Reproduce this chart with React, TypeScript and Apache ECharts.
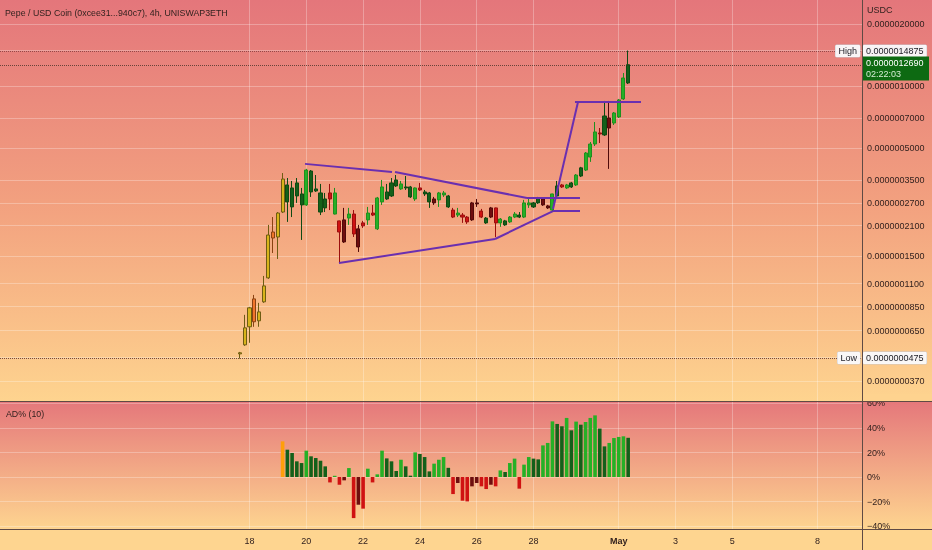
import React, { useEffect, useRef } from "react";
import * as echarts from "echarts";

// ---------- texts ----------
const TITLE = "Pepe / USD Coin (0xcee31...940c7), 4h, UNISWAP3ETH";
const QUOTE = "USDC";
const INDICATOR = "AD% (10)";
const COUNTDOWN = "02:22:03";

// ---------- time ----------
// x values are days counted from 1 April (31 = 1 May)
const MAY_FIRST = 31;
const FIRST_CANDLE_DAY = 17 + 16 / 24; // 17 Apr 16:00
const CANDLE_DAYS = 4 / 24; // 4h candles
const DAY_TICKS = [18, 20, 22, 24, 26, 28, 31, 33, 35, 38];
const DAY_AXIS_MIN = 9.215;
const DAY_AXIS_MAX = 39.567;

// ---------- prices (values in units of 1e-7 USDC) ----------
const PRICE_UNIT = 1e-7;
const OPEN = [
  0.501, 0.554, 0.678, 0.926, 0.725, 0.896, 1.171, 1.956, 1.85, 2.445,
  2.738, 2.589, 2.927, 2.648, 2.648, 3.061, 3.095, 2.445, 2.561, 3.027,
  2.391, 2.215, 2.24, 2.286, 2.391, 2.026, 2.166, 2.24, 2.418, 2.026,
  2.738, 2.83, 2.927, 3.273, 3.165, 3.201, 2.895, 2.83, 3.201, 2.993,
  2.738, 2.83, 2.8, 2.96, 2.589, 2.5, 2.364, 2.364, 2.312, 2.708,
  2.708, 2.472, 2.166, 2.561, 2.561, 2.166, 2.118, 2.19, 2.312, 2.312,
  2.312, 2.648, 2.589, 2.708, 2.83, 2.619, 2.5, 2.927, 3.31, 3.201,
  3.237, 3.31, 3.657, 3.91, 4.522, 5.231, 5.918, 5.788, 6.996, 6.614,
  7.075, 8.654, 10.35,
];
const CLOSE = [
  0.507, 0.67, 0.838, 0.717, 0.801, 1.071, 1.891, 1.829, 2.418, 3.536,
  3.31, 3.201, 3.385, 2.993, 3.91, 3.867, 3.165, 3.027, 2.83, 2.83,
  3.027, 1.956, 1.75, 2.391, 1.913, 1.655, 2.095, 2.418, 2.364, 2.862,
  3.237, 3.061, 3.385, 3.5, 3.347, 3.237, 3.237, 3.201, 3.13, 3.061,
  3.027, 2.708, 3.027, 3.027, 2.927, 2.312, 2.418, 2.312, 2.19, 2.24,
  2.678, 2.312, 2.286, 2.312, 2.166, 2.261, 2.215, 2.312, 2.391, 2.364,
  2.708, 2.708, 2.708, 2.862, 2.648, 2.561, 2.993, 3.273, 3.237, 3.31,
  3.385, 3.698, 4.006, 4.729, 5.231, 5.985, 5.853, 7.154, 6.255, 7.398,
  8.56, 10.94, 12.69,
];
const LOW = [
  0.475, 0.548, 0.567, 0.678, 0.678, 0.886, 1.158, 1.547, 1.447, 2.418,
  2.19, 2.312, 2.708, 1.79, 2.619, 2.895, 3.061, 2.364, 2.445, 2.5,
  2.38, 1.398, 1.731, 2.118, 1.85, 1.565, 2.048, 2.118, 2.338, 2.0,
  2.648, 2.8, 2.895, 3.237, 3.13, 3.13, 2.862, 2.769, 3.095, 2.927,
  2.561, 2.648, 2.589, 2.895, 2.561, 2.286, 2.312, 2.166, 2.142, 2.215,
  2.589, 2.286, 2.142, 2.286, 1.85, 2.072, 2.095, 2.166, 2.286, 2.286,
  2.286, 2.561, 2.561, 2.678, 2.619, 2.532, 2.472, 2.862, 3.201, 3.165,
  3.201, 3.273, 3.616, 3.867, 4.283, 5.116, 5.289, 5.723, 3.961, 6.469,
  6.996, 8.56, 10.23,
];
const HIGH = [
  0.512, 0.775, 0.847, 0.968, 0.886, 1.197, 2.118, 2.312, 2.445, 3.781,
  3.576, 3.461, 3.576, 3.201, 3.961, 3.91, 3.698, 3.347, 3.027, 3.347,
  3.201, 2.22, 2.561, 2.561, 2.5, 2.118, 2.215, 2.589, 2.648, 2.895,
  3.5, 3.347, 3.576, 3.698, 3.461, 3.657, 3.273, 3.22, 3.385, 3.13,
  3.061, 2.895, 3.061, 3.095, 2.96, 2.561, 2.561, 2.418, 2.338, 2.738,
  2.83, 2.532, 2.312, 2.589, 2.57, 2.286, 2.24, 2.338, 2.445, 2.445,
  2.8, 2.83, 2.738, 2.895, 2.862, 2.648, 3.0, 3.461, 3.347, 3.347,
  3.423, 3.739, 4.051, 4.782, 5.349, 6.689, 6.255, 8.465, 8.465, 7.481,
  8.654, 11.57, 14.875,
];

// AD% (10) indicator, one value per candle (first 9 candles have none)
const AD_PCT = [
  null, null, null, null, null, null, null, null, null, 29.1,
  22.3, 19.6, 12.8, 11.4, 21.5, 16.9, 15.5, 13.3, 8.7, -4.4,
  1.0, -6.3, -2.7, 7.3, -33.5, -22.6, -25.8, 6.8, -4.4, 2.2,
  21.5, 15.2, 12.8, 4.9, 14.1, 8.7, 1.1, 20.1, 18.8, 16.3,
  4.6, 10.9, 14.1, 16.3, 7.5, -13.9, -4.9, -19.3, -19.9, -7.6,
  -4.9, -7.6, -9.8, -6.3, -7.6, 5.4, 4.1, 11.4, 15.0, -9.5,
  10.1, 16.3, 15.0, 14.4, 25.8, 27.8, 45.4, 43.3, 41.4, 48.2,
  38.1, 45.2, 42.7, 44.9, 48.2, 50.3, 39.5, 25.0, 27.8, 31.8,
  32.7, 33.2, 32.0,
];

// price scale ticks (USDC)
const PRICE_TICKS = [
  2e-6, 1.5e-6, 1e-6, 7e-7, 5e-7, 3.5e-7, 2.7e-7, 2.1e-7, 1.5e-7, 1.1e-7,
  8.5e-8, 6.5e-8, 4.8e-8, 3.7e-8,
];
const PRICE_AXIS_MIN = 2.958e-8;
const PRICE_AXIS_MAX = 2.616e-6;
const AD_TICKS = [-40, -20, 0, 20, 40, 60];
const AD_AXIS_MIN = -42.4;
const AD_AXIS_MAX = 61.2;

// visible range markers
const VISIBLE_HIGH = 1.4875e-6;
const VISIBLE_LOW = 4.75e-8;

// drawn trend lines: [day, price in 1e-7]
const TRENDLINES = [
  [[19.954, 4.189], [23.018, 3.824]],
  [[23.123, 3.824], [27.771, 2.862]],
  [[21.151, 1.383], [26.644, 1.809]],
  [[26.644, 1.809], [28.687, 2.472]],
  [[27.771, 2.862], [29.637, 2.862]],
  [[28.687, 2.472], [29.637, 2.472]],
  [[28.687, 2.532], [29.567, 8.371]],
  [[29.461, 8.371], [31.785, 8.371]],
];

// ---------- styles ----------
const FONT = '"Liberation Sans", Arial, sans-serif';
const TEXT = "#33221f";
const GRID_LINE = "rgba(255,255,255,0.28)";
const SEP = "#5f4a44";
const PURPLE = "#6a2fb0";
const C = {
  gUp: "#26b026",
  gDark: "#14601a",
  rDown: "#d01212",
  rDark: "#6e0e0e",
  orange: "#ff9f0a",
  yellow: "#d8b41c",
  orangeCandle: "#f0762b",
};
const BORDER: Record<string, string> = {
  [C.gUp]: "#1f8f1f",
  [C.gDark]: "#0f4a13",
  [C.rDown]: "#9a0e0e",
  [C.rDark]: "#500a0a",
  [C.yellow]: "#6e5c12",
  [C.orangeCandle]: "#8a4212",
};

const lg = Math.log10;
const fmtPrice = (p: number) => p.toFixed(10);
const dayOf = (i: number) => FIRST_CANDLE_DAY + i * CANDLE_DAYS;

function adTrend(i: number): "rise" | "fall" | null {
  const v = AD_PCT[i];
  const pv = i > 0 ? AD_PCT[i - 1] : null;
  if (v == null || pv == null) return null;
  return v >= pv ? "rise" : "fall";
}

function candleColor(i: number) {
  const up = CLOSE[i] >= OPEN[i];
  const t = adTrend(i);
  if (!t) return up ? C.yellow : C.orangeCandle;
  if (up) return t === "rise" ? C.gUp : C.gDark;
  return t === "fall" ? C.rDown : C.rDark;
}

function barColor(i: number) {
  const v = AD_PCT[i] as number;
  const t = adTrend(i);
  if (!t) return C.orange;
  if (v >= 0) return t === "rise" ? C.gUp : C.gDark;
  return t === "fall" ? C.rDown : C.rDark;
}

function buildOption() {
  const last = OPEN.length - 1;
  const lastPrice = CLOSE[last] * PRICE_UNIT;
  const lastAd = AD_PCT[last] as number;

  const candleData = OPEN.map((o, i) => {
    const col = candleColor(i);
    return {
      value: [
        dayOf(i),
        lg(o * PRICE_UNIT),
        lg(CLOSE[i] * PRICE_UNIT),
        lg(LOW[i] * PRICE_UNIT),
        lg(HIGH[i] * PRICE_UNIT),
      ],
      itemStyle: {
        color: col,
        color0: col,
        borderColor: BORDER[col],
        borderColor0: BORDER[col],
        borderWidth: 1,
      },
    };
  });

  const barData: any[] = [];
  AD_PCT.forEach((v, i) => {
    if (v == null) return;
    barData.push({ value: [dayOf(i), v], itemStyle: { color: barColor(i) } });
  });

  const tagLabel = {
    fontSize: 9,
    fontFamily: FONT,
    color: "#1c1c24",
    backgroundColor: "rgba(250,250,252,0.95)",
    borderColor: "#c9c9cf",
    borderWidth: 0.5,
    borderRadius: 1,
    padding: [2, 3, 1, 3],
  };

  const dottedFaint = { type: "dotted", color: "rgba(110,50,50,0.45)", width: 1 };

  const priceTickLogs = PRICE_TICKS.map(lg);

  return {
    animation: false,
    textStyle: { fontFamily: FONT },
    graphic: [
      {
        type: "rect",
        z: -10,
        silent: true,
        shape: { x: 0, y: 0, width: 932, height: 402 },
        style: {
          fill: new echarts.graphic.LinearGradient(0, 0, 0, 1, [
            { offset: 0, color: "#e4767b" },
            { offset: 0.5, color: "#f2a07f" },
            { offset: 1, color: "#fed48f" },
          ]),
        },
      },
      {
        type: "rect",
        z: -10,
        silent: true,
        shape: { x: 0, y: 402, width: 932, height: 128 },
        style: {
          fill: new echarts.graphic.LinearGradient(0, 0, 0, 1, [
            { offset: 0, color: "#e5787b" },
            { offset: 1, color: "#fed590" },
          ]),
        },
      },
      {
        type: "rect",
        z: -10,
        silent: true,
        shape: { x: 0, y: 530, width: 932, height: 20 },
        style: { fill: "#fed590" },
      },
      {
        type: "rect",
        z: 40,
        silent: true,
        shape: { x: 863, y: 394, width: 69, height: 8 },
        style: { fill: "#fed38f" },
      },
      {
        type: "line",
        z: 50,
        silent: true,
        shape: { x1: 0, y1: 401.5, x2: 932, y2: 401.5 },
        style: { stroke: SEP, lineWidth: 1 },
      },
      {
        type: "line",
        z: 50,
        silent: true,
        shape: { x1: 0, y1: 529.5, x2: 932, y2: 529.5 },
        style: { stroke: SEP, lineWidth: 1 },
      },
      {
        type: "line",
        z: 50,
        silent: true,
        shape: { x1: 862.5, y1: 0, x2: 862.5, y2: 550 },
        style: { stroke: SEP, lineWidth: 1 },
      },
      {
        type: "text",
        z: 50,
        x: 5,
        y: 8,
        style: { text: TITLE, fill: TEXT, fontSize: 8.8, fontFamily: FONT },
      },
      {
        type: "text",
        z: 50,
        x: 867,
        y: 5,
        style: { text: QUOTE, fill: TEXT, fontSize: 9, fontFamily: FONT },
      },
      {
        type: "text",
        z: 50,
        x: 6,
        y: 409.5,
        style: { text: INDICATOR, fill: TEXT, fontSize: 8.8, fontFamily: FONT },
      },
    ],
    grid: [
      { left: 0, top: 0, width: 862, height: 401, outerBoundsMode: "none" },
      { left: 0, top: 402, width: 862, height: 127, outerBoundsMode: "none" },
    ],
    xAxis: [
      {
        type: "value",
        gridIndex: 0,
        min: DAY_AXIS_MIN,
        max: DAY_AXIS_MAX,
        axisLine: { show: false },
        axisTick: { show: false, customValues: DAY_TICKS },
        axisLabel: { show: false, customValues: DAY_TICKS },
        splitLine: { show: true, lineStyle: { color: GRID_LINE, width: 1 } },
      },
      {
        type: "value",
        gridIndex: 1,
        min: DAY_AXIS_MIN,
        max: DAY_AXIS_MAX,
        axisLine: { show: false },
        axisTick: { show: false, customValues: DAY_TICKS },
        axisLabel: {
          customValues: DAY_TICKS,
          color: TEXT,
          fontSize: 9,
          fontFamily: FONT,
          margin: 7,
          formatter: (v: number) =>
            v === MAY_FIRST ? "{m|May}" : String(v > MAY_FIRST ? v - MAY_FIRST + 1 : v),
          rich: { m: { fontWeight: "bold", fontSize: 9, color: TEXT, fontFamily: FONT } },
        },
        splitLine: { show: true, lineStyle: { color: GRID_LINE, width: 1 } },
      },
    ],
    yAxis: [
      {
        type: "value",
        gridIndex: 0,
        position: "right",
        min: lg(PRICE_AXIS_MIN),
        max: lg(PRICE_AXIS_MAX),
        axisLine: { show: false },
        axisTick: { show: false, customValues: priceTickLogs },
        axisLabel: {
          customValues: priceTickLogs,
          formatter: (v: number) => fmtPrice(Math.pow(10, v)),
          color: TEXT,
          fontSize: 9,
          fontFamily: FONT,
          margin: 5,
        },
        splitLine: { show: true, lineStyle: { color: GRID_LINE, width: 1 } },
      },
      {
        type: "value",
        gridIndex: 1,
        position: "right",
        min: AD_AXIS_MIN,
        max: AD_AXIS_MAX,
        axisLine: { show: false },
        axisTick: { show: false, customValues: AD_TICKS },
        axisLabel: {
          customValues: AD_TICKS,
          formatter: (v: number) => (v < 0 ? "\u2212" + Math.abs(v) : String(v)) + "%",
          color: TEXT,
          fontSize: 9,
          fontFamily: FONT,
          margin: 5,
        },
        splitLine: { show: true, lineStyle: { color: GRID_LINE, width: 1 } },
      },
    ],
    series: [
      {
        type: "candlestick",
        xAxisIndex: 0,
        yAxisIndex: 0,
        barWidth: 3.6,
        z: 2,
        data: candleData,
        markLine: {
          silent: true,
          symbol: ["none", "none"],
          animation: false,
          data: [
            {
              yAxis: lg(VISIBLE_HIGH),
              lineStyle: dottedFaint,
              label: { ...tagLabel, position: "end", distance: 1, formatter: fmtPrice(VISIBLE_HIGH) },
            },
            {
              yAxis: lg(VISIBLE_HIGH),
              lineStyle: dottedFaint,
              label: { ...tagLabel, position: "insideEnd", distance: 2, formatter: "High" },
            },
            {
              yAxis: lg(VISIBLE_LOW),
              lineStyle: { type: "dotted", color: "rgba(90,50,50,0.6)", width: 1 },
              label: { ...tagLabel, position: "end", distance: 1, formatter: fmtPrice(VISIBLE_LOW) },
            },
            {
              yAxis: lg(VISIBLE_LOW),
              lineStyle: { type: "dotted", color: "rgba(90,50,50,0.6)", width: 1 },
              label: { ...tagLabel, position: "insideEnd", distance: 2, formatter: "Low" },
            },
            {
              yAxis: lg(lastPrice),
              lineStyle: { type: "dotted", color: "rgba(60,45,35,0.75)", width: 1 },
              label: {
                position: "end",
                distance: 1,
                formatter: "{s|}\n{a|" + fmtPrice(lastPrice) + "}\n{b|" + COUNTDOWN + "}",
                rich: {
                  s: { height: 6, lineHeight: 6, fontSize: 6, fontFamily: FONT },
                  a: {
                    width: 60,
                    height: 11.5,
                    lineHeight: 11.5,
                    fontSize: 9,
                    fontFamily: FONT,
                    color: "#ffffff",
                    backgroundColor: "#0d6a12",
                    padding: [1, 3, 0, 3],
                  },
                  b: {
                    width: 60,
                    height: 11.5,
                    lineHeight: 11.5,
                    fontSize: 9,
                    fontFamily: FONT,
                    color: "#d5ecd5",
                    backgroundColor: "#0d6a12",
                    padding: [0, 3, 1, 3],
                  },
                },
              },
            },
          ],
        },
      },
      {
        type: "lines",
        coordinateSystem: "cartesian2d",
        xAxisIndex: 0,
        yAxisIndex: 0,
        z: 4,
        silent: true,
        lineStyle: { color: PURPLE, width: 2, opacity: 1, curveness: 0 },
        data: TRENDLINES.map((seg) => ({
          coords: seg.map(([d, p]) => [d, lg(p * PRICE_UNIT)]),
        })),
      },
      {
        type: "bar",
        xAxisIndex: 1,
        yAxisIndex: 1,
        barWidth: 3.6,
        data: barData,
        markLine: {
          silent: true,
          symbol: ["none", "none"],
          animation: false,
          data: [
            {
              yAxis: lastAd,
              lineStyle: { opacity: 0 },
              label: {
                position: "end",
                distance: 0,
                formatter: Math.round(lastAd) + "%",
                fontSize: 9,
                fontFamily: FONT,
                color: "#ffffff",
                backgroundColor: "#0d6a12",
                padding: [2, 3, 1, 3],
              },
            },
          ],
        },
      },
    ],
  };
}

export default function App() {
  const ref = useRef<HTMLDivElement>(null);
  useEffect(() => {
    const chart = echarts.init(ref.current as HTMLDivElement, undefined, { renderer: "svg" });
    chart.setOption(buildOption() as any);
    return () => chart.dispose();
  }, []);
  return (
    <div
      ref={ref}
      style={{ position: "fixed", left: 0, top: 0, width: 932, height: 550 }}
    />
  );
}
